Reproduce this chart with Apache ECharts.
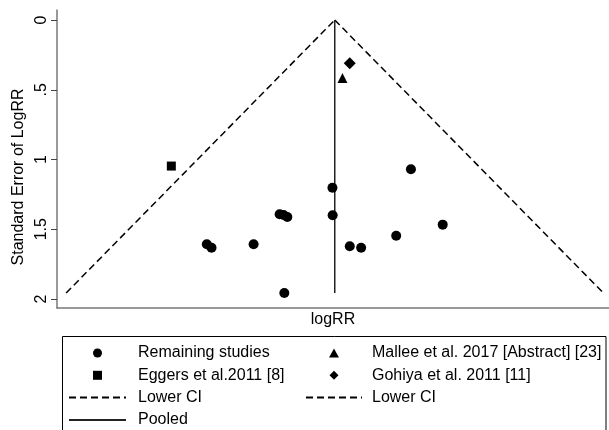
<!DOCTYPE html>
<html><head><meta charset="utf-8">
<script src="https://cdn.jsdelivr.net/npm/echarts@6/dist/echarts.min.js"></script>
<style>html,body{margin:0;padding:0;background:#fff}#c{width:609px;height:430px}</style>
</head><body><div id="c"></div>
<script>
// Data (x = logRR, y = standard error of logRR)
const remainingStudies = [
  [-1.824, 1.608], [-1.757, 1.632], [-1.157, 1.608], [-0.786, 1.393],
  [-0.730, 1.398], [-0.676, 1.412], [-0.719, 1.957], [-0.033, 1.202],
  [-0.030, 1.400], [0.214, 1.622], [0.376, 1.632], [0.876, 1.546],
  [1.086, 1.070], [1.539, 1.467]
];
const eggers = [[-2.33, 1.047]];
const mallee = [[0.11, 0.416]];
const gohiya = [[0.214, 0.31]];
const ciLeft = [[-3.83, 1.957], [0, 0]];
const ciRight = [[0, 0], [3.83, 1.957]];
const pooled = [[0, 0], [0, 1.957]];
const yTicks = [0, 0.5, 1, 1.5, 2];
const yTickLabels = ['0', '.5', '1', '1.5', '2'];

const FONT = 'Liberation Sans';
const ICON_SQUARE = 'path://M0,0H10V10H0Z';
const ICON_TRIANGLE = 'path://M5.5,0L11,10H0Z';
const ICON_DIAMOND = 'path://M5.5,0L11,5.5L5.5,11L0,5.5Z';
const legendText = (pad) => ({ fontFamily: FONT, fontSize: 16, color: '#000', lineHeight: 18, padding: [0, 0, 0, pad] });
const chart = echarts.init(document.getElementById('c'));
chart.setOption({
  animation: false,
  backgroundColor: '#fff',
  textStyle: { fontFamily: FONT, color: '#000' },
  grid: { left: 57, right: 0, top: 10, bottom: 122 },
  xAxis: {
    type: 'value', min: -3.96, max: 3.91,
    name: 'logRR', nameLocation: 'middle', nameGap: 4,
    nameTextStyle: { fontFamily: FONT, fontSize: 16, color: '#000', verticalAlign: 'top' },
    axisLine: { onZero: false, lineStyle: { color: '#777', width: 1.5 } },
    axisTick: { show: false }, axisLabel: { show: false }, splitLine: { show: false }
  },
  yAxis: {
    type: 'value', inverse: true, min: -0.0717, max: 2.0645,
    name: 'Standard Error of LogRR', nameLocation: 'middle', nameGap: 26, nameRotate: 90,
    nameTextStyle: { fontFamily: FONT, fontSize: 16, color: '#000', padding: [0, 36, 0, 0] },
    axisLine: { onZero: false, lineStyle: { color: '#777', width: 1.5 } },
    axisTick: { show: true, length: 6, customValues: yTicks, lineStyle: { color: '#444' } },
    axisLabel: {
      customValues: yTicks, rotate: 90, margin: 7, fontSize: 16, color: '#000', fontFamily: FONT,
      formatter: v => yTickLabels[yTicks.indexOf(v)] ?? ''
    },
    splitLine: { show: false }
  },
  legend: [
    {
      left: 68, top: 344, orient: 'vertical', padding: 0, itemGap: 4.3,
      itemWidth: 57, itemHeight: 9, selectedMode: false, symbolKeepAspect: true,
      textStyle: legendText(7),
      data: [
        { name: 'Remaining studies', icon: 'circle' },
        { name: 'Eggers et al.2011 [8]', icon: ICON_SQUARE },
        'Lower CI', 'Pooled'
      ]
    },
    {
      left: 305, top: 344, orient: 'vertical', padding: 0, itemGap: 4.3,
      itemWidth: 56, itemHeight: 9, selectedMode: false, symbolKeepAspect: true,
      textStyle: legendText(5),
      data: [
        { name: 'Mallee et al. 2017 [Abstract] [23]', icon: ICON_TRIANGLE },
        { name: 'Gohiya et al. 2011 [11]', icon: ICON_DIAMOND },
        'Lower CI'
      ]
    }
  ],
  graphic: [
    { type: 'rect', shape: { x: 62.5, y: 336.5, width: 543.5, height: 120 },
      style: { fill: 'none', stroke: '#000', lineWidth: 1 }, silent: true, z: 0 }
  ],
  series: [
    { name: 'Lower CI', type: 'line', data: ciLeft, symbol: 'none',
      lineStyle: { color: '#000', width: 1.5, type: [7, 4] }, itemStyle: { color: 'rgba(0,0,0,0)' }, z: 1 },
    { name: 'Lower CI', type: 'line', data: ciRight, symbol: 'none',
      lineStyle: { color: '#000', width: 1.5, type: [7, 4] }, itemStyle: { color: 'rgba(0,0,0,0)' }, z: 1 },
    { name: 'Pooled', type: 'line', data: pooled, symbol: 'none',
      lineStyle: { color: '#222', width: 1.5 }, itemStyle: { color: 'rgba(0,0,0,0)' }, z: 1 },
    { name: 'Remaining studies', type: 'scatter', data: remainingStudies, symbol: 'circle', symbolSize: 10,
      itemStyle: { color: '#000', opacity: 1 }, z: 3 },
    { name: 'Eggers et al.2011 [8]', type: 'scatter', data: eggers, symbol: 'rect', symbolSize: 9,
      itemStyle: { color: '#000', opacity: 1 }, z: 3 },
    { name: 'Mallee et al. 2017 [Abstract] [23]', type: 'scatter', data: mallee, symbol: 'triangle', symbolSize: 10,
      itemStyle: { color: '#000', opacity: 1 }, z: 3 },
    { name: 'Gohiya et al. 2011 [11]', type: 'scatter', data: gohiya, symbol: 'diamond', symbolSize: [12, 12],
      itemStyle: { color: '#000', opacity: 1 }, z: 3 }
  ]
});
</script></body></html>
